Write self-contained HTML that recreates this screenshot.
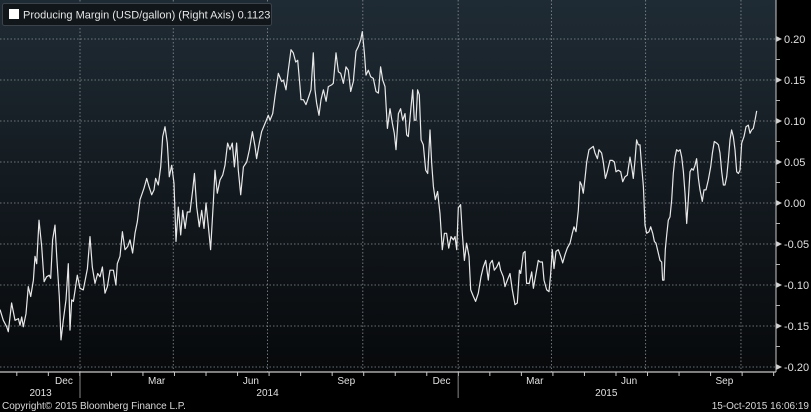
<!DOCTYPE html>
<html><head><meta charset="utf-8">
<style>
html,body{margin:0;padding:0;background:#000;}
svg{display:block;font-family:"Liberation Sans",sans-serif;}
</style></head>
<body>
<svg id="chart" width="811" height="412" viewBox="0 0 811 412">
<defs>
<linearGradient id="bg" x1="0" y1="0" x2="0" y2="1">
<stop offset="0" stop-color="#1f2b34"/>
<stop offset="1" stop-color="#07090b"/>
</linearGradient>
</defs>
<rect x="0" y="0" width="811" height="412" fill="#000"/>
<rect x="0" y="0" width="776" height="372" fill="url(#bg)"/>
<g id="grid"></g>
<g id="axes"></g>
<path id="line" fill="none" stroke="#e8e8e8" stroke-width="1.2" stroke-linejoin="round"/>
<g>
<rect x="2.5" y="3.5" width="269" height="22" rx="2" fill="#11161a" stroke="#3b4249"/>
<rect x="9" y="9" width="10" height="10" fill="#fff"/>
<text x="23" y="18.5" font-size="11" fill="#e6e6e6">Producing Margin (USD/gallon) (Right Axis) 0.1123</text>
</g>
<text x="2" y="409" font-size="10" fill="#d8d8d8">Copyright© 2015 Bloomberg Finance L.P.</text>
<text x="809" y="409" font-size="10" fill="#d8d8d8" text-anchor="end">15-Oct-2015 16:06:19</text>
</svg>
<script>
// days since 2014-01-01
const days = [-77.2,-74.0,-70.8,-69.2,-66.0,-62.7,-59.5,-57.9,-56.3,-54.7,-52.1,-49.9,-47.6,-45.0,-43.4,-41.8,-39.6,-37.0,-34.7,-32.2,-29.6,-28.3,-26.4,-24.1,-22.5,-20.0,-18.3,-16.1,-13.5,-11.3,-9.7,-8.0,-6.4,-2.6,0,3.2,7.1,9.7,11.9,14.5,17.1,19.3,21.6,24.1,26.4,29.0,32.2,34.7,36.0,38.6,40.9,43.4,46.0,48.3,50.8,53.1,55.3,57.9,61.8,64.4,66.6,69.2,71.4,73.0,75.6,77.9,79.8,82.0,84.3,86.2,88.5,90.7,92.7,94.9,97.2,99.1,101.4,103.6,106.2,108.8,110.4,112.6,115.2,117.5,119.7,121.6,123.9,126.1,128.7,130.3,132.5,135.1,137.7,140.0,142.5,144.8,147.0,149.0,151.2,152.8,155.1,157.7,160.9,163.5,166.4,168.9,170.5,173.1,175.3,178.6,181.8,
183.4,186.0,188.2,191.4,194.7,196.3,198.8,201.1,203.7,205.9,208.2,210.1,212.4,213.3,215.6,218.1,220.4,223.0,225.2,226.8,228.4,230.7,232.6,234.9,237.5,239.7,242.9,244.5,247.1,249.4,251.6,254.2,256.8,259.0,261.3,263.8,266.4,268.7,270.9,272.5,274.5,276.1,278.3,280.6,283.1,285.7,288.0,290.2,292.2,294.4,296.7,299.2,301.5,303.4,305.0,307.3,309.5,311.5,313.7,315.3,316.9,319.5,321.1,322.7,324.3,325.9,327.5,329.2,331.4,333.7,335.6,337.8,339.5,341.1,343.0,345.2,347.5,349.7,351.7,353.9,355.9,358.1,360.4,362.0,363.6,365.2,367.4,369.0,371.0,373.2,375.5,377.1,379.7,381.9,384.5,387.1,389.3,391.6,394.1,395.8,398.0,399.9,402.2,404.4,406.0,408.6,410.2,412.5,415.1,417.3,419.9,422.1,424.1,
425.4,427.9,429.5,431.1,433.7,436.0,437.6,440.2,442.4,444.0,446.3,447.9,450.5,452.7,454.3,455.9,457.5,459.5,461.7,464.0,465.9,468.1,470.4,473.0,475.2,476.8,478.8,481.0,482.6,484.2,485.8,487.5,489.1,491.3,493.2,495.5,497.1,499.4,501.0,503.5,505.1,507.1,509.0,511.6,513.8,515.8,517.4,519.6,521.9,523.8,526.1,528.3,530.9,532.5,534.1,535.7,537.3,538.9,540.5,542.2,543.8,545.4,547.0,549.2,550.9,552.8,554.4,556.0,558.2,559.8,561.5,562.4,563.7,565.0,566.3,567.9,569.5,571.1,572.7,574.3,575.9,577.5,579.2,580.8,582.4,584.0,585.6,587.2,588.8,590.4,592.0,593.6,595.2,596.9,598.5,600.7,602.3,604.2,606.5,608.8,610.4,612.3,614.6,616.2,617.8,619.4,621.0,622.6,624.2,625.8,627.4,629.0,630.6,632.2,633.9,635.5,637.1,638.7,640.9,642.9,645.1,646.7,648.3,649.9,651.5,653.2];
const margin = [-0.130,-0.143,-0.151,-0.157,-0.122,-0.143,-0.141,-0.149,-0.139,-0.151,-0.135,-0.102,-0.114,-0.094,-0.065,-0.074,-0.021,-0.053,-0.096,-0.090,-0.088,-0.092,-0.045,-0.027,-0.065,-0.114,-0.167,-0.143,-0.118,-0.074,-0.155,-0.118,-0.120,-0.088,-0.104,-0.106,-0.080,-0.041,-0.078,-0.098,-0.086,-0.090,-0.078,-0.110,-0.102,-0.082,-0.082,-0.100,-0.074,-0.065,-0.035,-0.057,-0.053,-0.045,-0.061,-0.037,-0.023,0.004,0.018,0.030,0.020,0.010,0.016,0.030,0.022,0.044,0.081,0.093,0.073,0.032,0.046,0.024,-0.047,-0.005,-0.039,-0.009,-0.031,-0.011,-0.011,0.016,0.036,-0.005,-0.029,-0.009,-0.031,0.000,-0.029,-0.057,0.000,0.040,0.012,0.028,0.034,0.046,0.073,0.065,0.073,0.044,0.073,0.040,0.010,0.044,0.050,0.065,0.087,0.069,0.054,0.073,0.087,0.097,0.107,
0.101,0.109,0.130,0.158,0.148,0.150,0.138,0.162,0.187,0.183,0.172,0.174,0.142,0.126,0.126,0.120,0.128,0.138,0.183,0.138,0.122,0.107,0.126,0.138,0.124,0.142,0.144,0.146,0.183,0.160,0.158,0.146,0.166,0.162,0.136,0.148,0.185,0.191,0.199,0.209,0.183,0.156,0.162,0.154,0.152,0.136,0.134,0.166,0.150,0.142,0.091,0.115,0.097,0.085,0.065,0.109,0.115,0.101,0.109,0.083,0.081,0.117,0.138,0.101,0.101,0.138,0.132,0.077,0.071,0.040,0.036,0.089,0.048,0.020,0.004,0.014,-0.013,-0.057,-0.037,-0.037,-0.055,-0.041,-0.045,-0.041,-0.057,-0.006,-0.002,-0.037,-0.070,-0.049,-0.065,-0.106,-0.114,-0.120,-0.110,-0.090,-0.078,-0.070,-0.094,-0.074,-0.070,-0.082,-0.078,-0.072,-0.082,-0.090,-0.102,-0.094,-0.086,-0.106,-0.124,-0.122,-0.082,
-0.086,-0.061,-0.059,-0.098,-0.098,-0.084,-0.104,-0.086,-0.070,-0.072,-0.072,-0.094,-0.106,-0.108,-0.086,-0.057,-0.080,-0.059,-0.057,-0.065,-0.073,-0.063,-0.055,-0.049,-0.037,-0.029,-0.035,-0.009,0.026,0.022,0.012,0.030,0.050,0.065,0.067,0.069,0.061,0.054,0.065,0.061,0.050,0.030,0.038,0.052,0.052,0.050,0.038,0.040,0.038,0.026,0.032,0.034,0.056,0.044,0.030,0.052,0.077,0.071,0.071,0.044,0.020,-0.027,-0.037,-0.035,-0.029,-0.037,-0.047,-0.049,-0.061,-0.070,-0.072,-0.094,-0.094,-0.057,-0.039,-0.021,-0.017,0.004,0.036,0.056,0.065,0.063,0.065,0.056,0.038,0.012,-0.025,0.004,0.038,0.042,0.040,0.046,0.054,0.030,0.016,0.002,0.016,0.016,0.028,0.044,0.061,0.075,0.073,0.071,0.061,0.038,0.022,0.022,0.032,0.052,0.077,0.089,0.081,0.065,0.038,0.036,0.040,0.073,0.081,0.093,0.095,0.085,0.089,0.091,0.101,0.1123];
const yTicks = [0.20,0.15,0.10,0.05,0.00,-0.05,-0.10,-0.15,-0.20];
const quarterDays = [0,90,181,273,365,455,546,638];
const monthLabels = ["Dec","Mar","Jun","Sep","Dec","Mar","Jun","Sep"];
const monthLabelDays = [-15.5,74,165,257,349,439,530,622];
const yearLabels = ["2013","2014","2015"];
const yearLabelDays = [-38,181,508];
const yearBoundaryDays = [0,365];

const NS = "http://www.w3.org/2000/svg";
function xs(d){ return 80 + d*1.036; }
function ys(v){ return 203 - v*820; }
function mk(tag, attrs, parent){
  const e = document.createElementNS(NS, tag);
  for (const k in attrs) e.setAttribute(k, attrs[k]);
  parent.appendChild(e); return e;
}
const grid = document.getElementById('grid');
const axes = document.getElementById('axes');

yTicks.forEach(v => {
  const y = ys(v);
  const g = mk('line', {x1:0, x2:776, y1:y, y2:y, stroke:'#8a9096', 'stroke-width':0.8, 'stroke-dasharray':'1.5,2'}, grid);
  
  
  const t = mk('path', {d:`M776 ${y-3} L782 ${y} L776 ${y+3} Z`, fill:'#d0d0d0'}, axes);
  
  
  const lab = mk('text', {x:784, y:y+4, 'font-size':11, fill:'#e0e0e0'}, axes);
  lab.textContent = v.toFixed(2);
  
  
});
for (let i = 0; i < yTicks.length - 1; i++) {
  const y = ys((yTicks[i] + yTicks[i+1]) / 2);
  const m = mk('line', {x1:776, x2:780, y1:y, y2:y, stroke:'#b0b0b0', 'stroke-width':1}, axes);
  
  
}
quarterDays.forEach(d => {
  const x = xs(d);
  const g = mk('line', {x1:x, x2:x, y1:0, y2:372, stroke:'#8a9096', 'stroke-width':0.8, 'stroke-dasharray':'1.5,2'}, grid);
  
  
});
const ax = mk('line', {x1:0, x2:776, y1:372, y2:372, stroke:'#c8c8c8', 'stroke-width':1.2}, axes);


const ay = mk('line', {x1:776, x2:776, y1:0, y2:372, stroke:'#c8c8c8', 'stroke-width':1}, axes);


for (let d = -61; d <= 670; d += 30.44) {
  const x = xs(d);
  if (x < 0 || x > 776) continue;
  const t = mk('line', {x1:x, x2:x, y1:372, y2:376, stroke:'#c8c8c8', 'stroke-width':1}, axes);
  
  
}
monthLabels.forEach((m, i) => {
  const t = mk('text', {x:xs(monthLabelDays[i]), y:384, 'font-size':10, fill:'#e0e0e0', 'text-anchor':'middle'}, axes);
  t.textContent = m;
  
  
});
yearLabels.forEach((yr, i) => {
  const t = mk('text', {x:xs(yearLabelDays[i]), y:396, 'font-size':10, fill:'#e0e0e0', 'text-anchor':'middle'}, axes);
  t.textContent = yr;
  
  
});
yearBoundaryDays.forEach(d => {
  const x = xs(d);
  const s = mk('line', {x1:x, x2:x, y1:376, y2:398, stroke:'#888', 'stroke-width':1}, axes);
  
  
});
let dStr = '';
days.forEach((d, i) => {
  dStr += (i ? 'L' : 'M') + xs(d).toFixed(1) + ' ' + ys(margin[i]).toFixed(1);
});
document.getElementById('line').setAttribute('d', dStr);
</script>
</body></html>
